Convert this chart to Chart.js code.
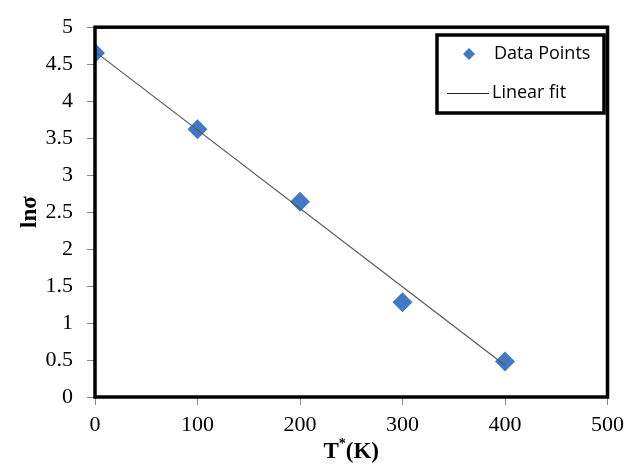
<!DOCTYPE html>
<html>
<head>
<meta charset="utf-8">
<script src="https://cdn.jsdelivr.net/npm/chart.js@4/dist/chart.umd.min.js"></script>
<style>
html,body{margin:0;padding:0;background:#fff;}
#wrap{width:631px;height:464px;position:relative;}
</style>
</head>
<body>
<div id="wrap"><canvas id="c" width="631" height="464"></canvas></div>
<script>
// Data
const temperatures = [0, 100, 200, 300, 400];
const lnSigma = [4.65, 3.62, 2.64, 1.28, 0.48];
const fitX = [0, 400];
const fitY = [4.67, 0.43];
const xTicks = [0, 100, 200, 300, 400, 500];
const yTicks = [0, 0.5, 1, 1.5, 2, 2.5, 3, 3.5, 4, 4.5, 5];
const seriesLabels = ['Data Points', 'Linear fit'];

const pointColor = '#4379c2';
const serif = '"Liberation Serif", "Times New Roman", serif';

const frameAndLegend = {
  id: 'frameAndLegend',
  afterDraw(chart) {
    const ctx = chart.ctx;
    const a = chart.chartArea;
    ctx.save();
    // plot frame
    ctx.strokeStyle = '#000';
    ctx.lineWidth = 3.5;
    ctx.strokeRect(a.left, a.top, a.right - a.left, a.bottom - a.top);
    // legend box
    const lx = 437, ly = 35, lw = 167, lh = 78;
    ctx.fillStyle = '#fff';
    ctx.fillRect(lx, ly, lw, lh);
    ctx.lineWidth = 3.5;
    ctx.strokeRect(lx, ly, lw, lh);
    // diamond
    ctx.fillStyle = pointColor;
    ctx.beginPath();
    const dx = 469, dy = 54, r = 6;
    ctx.moveTo(dx, dy - r); ctx.lineTo(dx + r, dy); ctx.lineTo(dx, dy + r); ctx.lineTo(dx - r, dy); ctx.closePath();
    ctx.fill();
    // line sample
    ctx.strokeStyle = '#222';
    ctx.lineWidth = 1;
    ctx.beginPath(); ctx.moveTo(447, 93.5); ctx.lineTo(489, 93.5); ctx.stroke();
    ctx.fillStyle = '#000';
    ctx.font = '18px "Open Sans", "Liberation Sans", sans-serif';
    ctx.textBaseline = 'middle';
    ctx.textAlign = 'left';
    ctx.fillText(chart.data.datasets[0].label, 494, 54);
    ctx.fillText(chart.data.datasets[1].label, 492, 93);
    // x-axis title T*(K)
    ctx.font = 'bold 23px ' + serif;
    ctx.textBaseline = 'alphabetic';
    const cx = (a.left + a.right) / 2;
    const w1 = ctx.measureText('T').width;
    ctx.font = 'bold 14px ' + serif;
    const w2 = ctx.measureText('*').width;
    ctx.font = 'bold 23px ' + serif;
    const w3 = ctx.measureText('(K)').width;
    let sx = cx - (w1 + w2 + w3) / 2;
    const by = 458;
    ctx.fillText('T', sx, by);
    ctx.font = 'bold 14px ' + serif;
    ctx.fillText('*', sx + w1, by - 10);
    ctx.font = 'bold 23px ' + serif;
    ctx.fillText('(K)', sx + w1 + w2, by);
    // y-axis title
    ctx.translate(30, (a.top + a.bottom) / 2);
    ctx.rotate(-Math.PI / 2);
    ctx.textAlign = 'center';
    ctx.textBaseline = 'middle';
    ctx.font = 'bold 23px ' + serif;
    ctx.fillText('lnσ', 0, 0);
    ctx.restore();
  }
};

new Chart(document.getElementById('c'), {
  type: 'scatter',
  data: {
    datasets: [
      {
        label: seriesLabels[0],
        data: temperatures.map((t, i) => ({x: t, y: lnSigma[i]})),
        pointStyle: 'rectRot',
        pointRadius: 10,
        pointHoverRadius: 10,
        backgroundColor: pointColor,
        borderColor: pointColor,
        borderWidth: 0,
        showLine: false,
        order: 1
      },
      {
        label: seriesLabels[1],
        data: fitX.map((t, i) => ({x: t, y: fitY[i]})),
        showLine: true,
        borderColor: '#555',
        borderWidth: 1.2,
        pointRadius: 0,
        fill: false,
        order: 0
      }
    ]
  },
  options: {
    responsive: false,
    animation: false,
    layout: {padding: {top: 24, right: 20, left: 0, bottom: 0}},
    plugins: {legend: {display: false}, tooltip: {enabled: false}},
    scales: {
      x: {
        type: 'linear',
        min: 0, max: 500,
        afterBuildTicks: s => { s.ticks = xTicks.map(v => ({value: v})); },
        afterFit: s => { s.height = 67; },
        grid: {drawOnChartArea: false, tickLength: 8, color: '#888', drawTicks: true},
        border: {display: false},
        ticks: {color: '#000', font: {family: serif, size: 22}, padding: 7, maxRotation: 0,
                callback: v => String(v)}
      },
      y: {
        type: 'linear',
        min: 0, max: 5,
        afterBuildTicks: s => { s.ticks = yTicks.map(v => ({value: v})); },
        afterFit: s => { s.width = 95; },
        grid: {drawOnChartArea: false, tickLength: 8, color: '#888'},
        border: {display: false},
        ticks: {color: '#000', font: {family: serif, size: 22}, padding: 14,
                callback: v => String(v)}
      }
    }
  },
  plugins: [frameAndLegend]
});
</script>
</body>
</html>
